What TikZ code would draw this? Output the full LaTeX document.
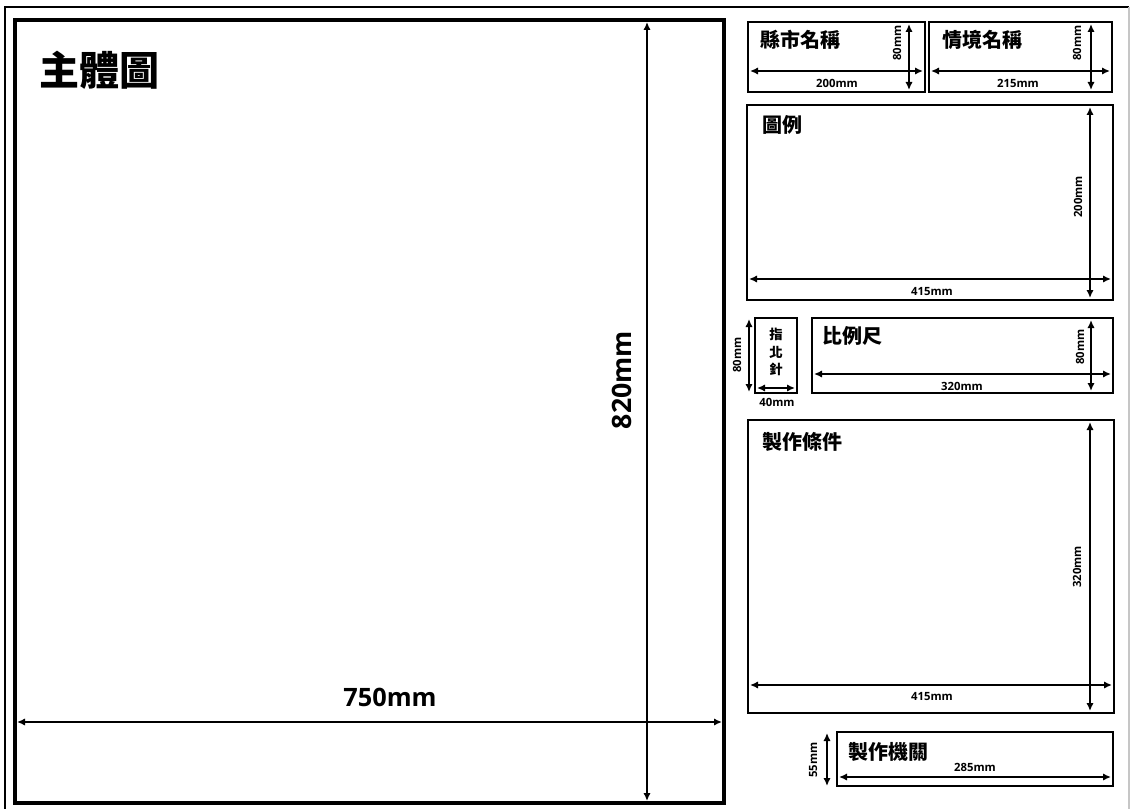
\documentclass[tikz,border=0pt]{standalone}
\usepackage{fontspec}
\usetikzlibrary{arrows.meta}
\setmainfont{Open Sans}
\newfontfamily\cjk{Noto Sans CJK TC}
\begin{document}
\begin{tikzpicture}[x=0.75pt,y=-0.75pt,
  >={Latex[length=6pt,width=5.5pt]},
  frame/.style={draw=black,line width=2.1pt},
  bigframe/.style={draw=black,line width=2.4pt},
  dimline/.style={<->,line width=1.7pt},
  lbl/.style={font=\bfseries\fontsize{8.5}{10}\selectfont,inner sep=0pt},
  ttl/.style={font=\cjk\bfseries\fontsize{15}{16}\selectfont,anchor=west,inner sep=0pt}]
\useasboundingbox (0,0) rectangle (1134,809);
% outer page frame
\coordinate (pTL) at (5,7); \coordinate (pTR) at (1129,7);
\coordinate (pBL) at (5,809); \coordinate (pBR) at (1129,809);
\draw[line width=2.1pt] (pBL) -- (pTL) -- (pTR);
\draw[line width=0.9pt,gray!45] (pTR) -- (pBR);
% main map
\draw[bigframe] (15,20) rectangle (724,803);
\coordinate (mvT) at (647,22); \coordinate (mvB) at (647,801);
\draw[<->,line width=1.3pt] (mvT) -- (mvB);
\node[font=\bfseries\fontsize{20}{22}\selectfont,rotate=90,inner sep=0pt] (l820) at (622,380) {820mm};
\coordinate (mhL) at (17,722); \coordinate (mhR) at (722,722);
\draw[<->,line width=1.8pt] (mhL) -- (mhR);
\node[font=\bfseries\fontsize{19}{22}\selectfont,inner sep=0pt] (l750) at (390,697) {750mm};
\node[ttl,font=\cjk\bfseries\fontsize{30}{32}\selectfont] (tmain) at (39,70) {主體圖};
% county name
\draw[frame] (748,22) rectangle (925,92);
\coordinate (a1T) at (909,24); \coordinate (a1B) at (909,90);
\draw[dimline] (a1T) -- (a1B);
\coordinate (a1L) at (750,71); \coordinate (a1R) at (923,71);
\draw[dimline] (a1L) -- (a1R);
\node[lbl] (d1w) at (837,83) {200mm};
\node[lbl,rotate=90] (d1h) at (897,43) {80mm};
\node[ttl] (t1) at (760,40) {縣市名稱};
% scenario name
\draw[frame] (929,22) rectangle (1112,92);
\coordinate (a2T) at (1091,24); \coordinate (a2B) at (1091,90);
\draw[dimline] (a2T) -- (a2B);
\coordinate (a2L) at (931,71); \coordinate (a2R) at (1110,71);
\draw[dimline] (a2L) -- (a2R);
\node[lbl] (d2w) at (1018,83) {215mm};
\node[lbl,rotate=90] (d2h) at (1077,43) {80mm};
\node[ttl] (t2) at (942,40) {情境名稱};
% legend
\draw[frame] (747,105) rectangle (1113,300);
\coordinate (a3T) at (1090,107); \coordinate (a3B) at (1090,298);
\draw[dimline] (a3T) -- (a3B);
\coordinate (a3L) at (749,279); \coordinate (a3R) at (1111,279);
\draw[dimline] (a3L) -- (a3R);
\node[lbl] (d3w) at (932,292) {415mm};
\node[lbl,rotate=90] (d3h) at (1078,197) {200mm};
\node[ttl] (t3) at (762,125) {圖例};
% north arrow
\draw[frame] (755,318) rectangle (797,393);
\coordinate (a4T) at (749,319); \coordinate (a4B) at (749,392);
\draw[dimline] (a4T) -- (a4B);
\coordinate (a4L) at (757,388); \coordinate (a4R) at (795,388);
\draw[dimline] (a4L) -- (a4R);
\node[lbl] (d4w) at (777,402) {40mm};
\node[lbl,rotate=90] (d4h) at (737,355) {80mm};
\node[font=\cjk\bfseries\fontsize{10}{13}\selectfont,align=center,inner sep=0pt] (t4) at (776,352) {指\\北\\針};
% scale bar
\draw[frame] (812,318) rectangle (1113,393);
\coordinate (a5T) at (1091,320); \coordinate (a5B) at (1091,391);
\draw[dimline] (a5T) -- (a5B);
\coordinate (a5L) at (814,374); \coordinate (a5R) at (1111,374);
\draw[dimline] (a5L) -- (a5R);
\node[lbl] (d5w) at (962,386) {320mm};
\node[lbl,rotate=90] (d5h) at (1080,347) {80mm};
\node[ttl] (t5) at (822,336) {比例尺};
% production conditions
\draw[frame] (748,420) rectangle (1114,713);
\coordinate (a6T) at (1090,422); \coordinate (a6B) at (1090,711);
\draw[dimline] (a6T) -- (a6B);
\coordinate (a6L) at (750,685); \coordinate (a6R) at (1112,685);
\draw[dimline] (a6L) -- (a6R);
\node[lbl] (d6w) at (932,697) {415mm};
\node[lbl,rotate=90] (d6h) at (1077,567) {320mm};
\node[ttl] (t6) at (762,442) {製作條件};
% producing agency
\draw[frame] (837,732) rectangle (1113,786);
\coordinate (a7T) at (827,733); \coordinate (a7B) at (827,786);
\draw[dimline] (a7T) -- (a7B);
\coordinate (a7L) at (839,777); \coordinate (a7R) at (1111,777);
\draw[dimline] (a7L) -- (a7R);
\node[lbl] (d7w) at (975,767) {285mm};
\node[lbl,rotate=90] (d7h) at (813,760) {55mm};
\node[ttl] (t7) at (848,752) {製作機關};
\end{tikzpicture}
\end{document}
